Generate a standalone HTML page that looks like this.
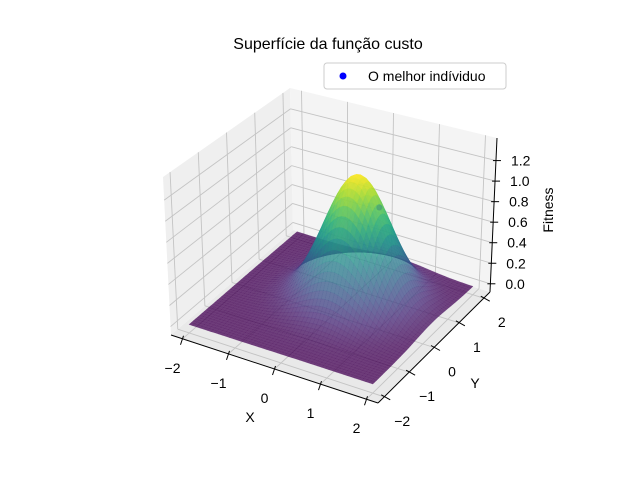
<!DOCTYPE html>
<html><head><meta charset="utf-8"><style>
body{margin:0;background:#fff;}
svg{display:block;font-family:"Liberation Sans","DejaVu Sans",sans-serif;}
</style></head><body>
<svg id="chart" width="640" height="480" viewBox="0 0 640 480">
<rect width="640" height="480" fill="#fff"/>
<text x="328" y="49" text-anchor="middle" font-size="16">Superfície da função custo</text>
<g id="panes"></g>
<g id="surf"></g>
<g id="axes"></g>
<g>
<rect x="324" y="63" width="182" height="26" rx="3" fill="#fff" fill-opacity="0.8" stroke="#ccc"/>
<circle cx="343" cy="76" r="3.5" fill="#0000ff"/>
<text x="368" y="81" font-size="14">O melhor indíviduo</text>
</g>
</svg>
<script>
const xTicks=[-2,-1,0,1,2];
const yTicks=[-2,-1,0,1,2];
const zTicks=[0.0,0.2,0.4,0.6,0.8,1.0,1.2];
const zTickLabels=["0.0","0.2","0.4","0.6","0.8","1.0","1.2"];
const peakCenter=[0.3,0.4];
const peakHeight=[1.22];
const peakSigma=[0.64];
const bestPoint=[0.75,0.45,0.95];

const XL=[-2.25,2.25],YL=[-2.25,2.25],ZL=[-0.08,1.42];
const B00=[171,335],B10=[378,403],B11=[490,292],B01=[293,230];
const T00=[163,177],T10=[380,233],T11=[497,138],T01=[290,88];
function bil(a,b,c,d,u,v){return [a[0]*(1-u)*(1-v)+b[0]*u*(1-v)+c[0]*u*v+d[0]*(1-u)*v,
 a[1]*(1-u)*(1-v)+b[1]*u*(1-v)+c[1]*u*v+d[1]*(1-u)*v];}
function P(x,y,z){const u=(x-XL[0])/(XL[1]-XL[0]),v=(y-YL[0])/(YL[1]-YL[0]),w=(z-ZL[0])/(ZL[1]-ZL[0]);
 const b=bil(B00,B10,B11,B01,u,v),t=bil(T00,T10,T11,T01,u,v);
 return [b[0]*(1-w)+t[0]*w,b[1]*(1-w)+t[1]*w];}
const NS="http://www.w3.org/2000/svg";
function el(t,a,p){const e=document.createElementNS(NS,t);for(const k in a)e.setAttribute(k,a[k]);p.appendChild(e);return e;}
function pts(a){return a.map(p=>p[0].toFixed(1)+","+p[1].toFixed(1)).join(" ");}
const panes=document.getElementById('panes');
let e;
e=el('polygon',{points:pts([B00,B01,B11,B10]),fill:'#e9e9e9'},panes);


e=el('polygon',{points:pts([B00,B01,T01,T00]),fill:'#efefef'},panes);


e=el('polygon',{points:pts([B01,B11,T11,T01]),fill:'#f4f4f4'},panes);


const gs={stroke:'#c4c4c4','stroke-width':0.9,fill:'none'};
function line(a,b,p,st){return el('line',Object.assign({x1:a[0],y1:a[1],x2:b[0],y2:b[1]},st),p);}
yTicks.forEach(y=>{e=line(P(XL[0],y,ZL[0]),P(XL[0],y,ZL[1]),panes,gs);


e=line(P(XL[0],y,ZL[0]),P(XL[1],y,ZL[0]),panes,gs);

});
xTicks.forEach(x=>{e=line(P(x,YL[1],ZL[0]),P(x,YL[1],ZL[1]),panes,gs);


e=line(P(x,YL[0],ZL[0]),P(x,YL[1],ZL[0]),panes,gs);

});
zTicks.forEach(z=>{e=line(P(XL[0],YL[0],z),P(XL[0],YL[1],z),panes,gs);


e=line(P(XL[0],YL[1],z),P(XL[1],YL[1],z),panes,gs);

});

const VIR=[[68,1,84],[72,40,120],[62,74,137],[49,104,142],[38,130,142],[31,158,137],[53,183,121],[109,205,89],[180,222,44],[253,231,37]];
function vir(t){t=Math.max(0,Math.min(1,t))*(VIR.length-1);const i=Math.min(VIR.length-2,Math.floor(t)),f=t-i;
 const c=VIR[i].map((v,k)=>Math.round(v+(VIR[i+1][k]-v)*f));return 'rgb('+c.join(',')+')';}
function F(x,y){const dx=x-peakCenter[0],dy=y-peakCenter[1];return peakHeight[0]*Math.exp(-(dx*dx+dy*dy)/(2*peakSigma[0]*peakSigma[0]));}
const N=50,quads=[];let zmin=1e9,zmax=-1e9;
for(let i=0;i<N;i++)for(let j=0;j<N;j++){
 const x0=-2+4*i/N,x1=-2+4*(i+1)/N,y0=-2+4*j/N,y1=-2+4*(j+1)/N;
 const zs=[F(x0,y0),F(x1,y0),F(x1,y1),F(x0,y1)];const zc=(zs[0]+zs[1]+zs[2]+zs[3])/4;
 zmin=Math.min(zmin,zc);zmax=Math.max(zmax,zc);
 const xc=(x0+x1)/2,yc=(y0+y1)/2;
 const key=0.866*(0.5*xc/4.5-0.866*yc/4.5)+0.5*0.75*zc/1.5;
 quads.push({p:[P(x0,y0,zs[0]),P(x1,y0,zs[1]),P(x1,y1,zs[2]),P(x0,y1,zs[3])],z:zc,key});}
quads.sort((a,b)=>a.key-b.key);
const surf=document.getElementById('surf');
quads.forEach(q=>{const c=vir((q.z-zmin)/(zmax-zmin));
 const pg=el('polygon',{points:pts(q.p),fill:c,stroke:c,'stroke-width':0.25,'stroke-opacity':0.5,'fill-opacity':0.74},surf);
 
 });
const bp=P(bestPoint[0],bestPoint[1],bestPoint[2]);
e=el('circle',{cx:bp[0],cy:bp[1],r:3,fill:'#2a6f80','fill-opacity':0.35},surf);



const ax=document.getElementById('axes');
const as={stroke:'#000','stroke-width':1};
e=line(B00,B10,ax,as);


e=line(B10,B11,ax,as);


e=line(B11,T11,ax,as);


function txt(s,x,y,p,anchor){const t=el('text',{x:x,y:y,'font-size':14,'text-anchor':anchor||'middle'},p);t.textContent=s;return t;}
xTicks.forEach(x=>{const a=P(x,YL[0],ZL[0]);
 e=line([a[0]+1,a[1]-3],[a[0]-2,a[1]+6],ax,as);
 
 
 e=txt(String(x).replace('-','−'),a[0]-10,a[1]+34,ax);
 
 });
yTicks.forEach(y=>{const a=P(XL[1],y,ZL[0]);
 e=line([a[0]-3,a[1]-2],[a[0]+6,a[1]+3],ax,as);
 
 
 e=txt(String(y).replace('-','−'),a[0]+18,a[1]+29,ax);
 
 });
zTicks.forEach((z,i)=>{const a=P(XL[1],YL[1],z);
 e=line([a[0]-3,a[1]],[a[0]+5,a[1]],ax,as);
 
 
 e=txt(zTickLabels[i],a[0]+15,a[1]+5,ax,'start');
 
 });
e=txt('X',250,422,ax);


e=txt('Y',475,388,ax);


e=txt('Fitness',0,0,ax);
e.setAttribute('transform','translate(553,210) rotate(-90)');


</script>
</body></html>
